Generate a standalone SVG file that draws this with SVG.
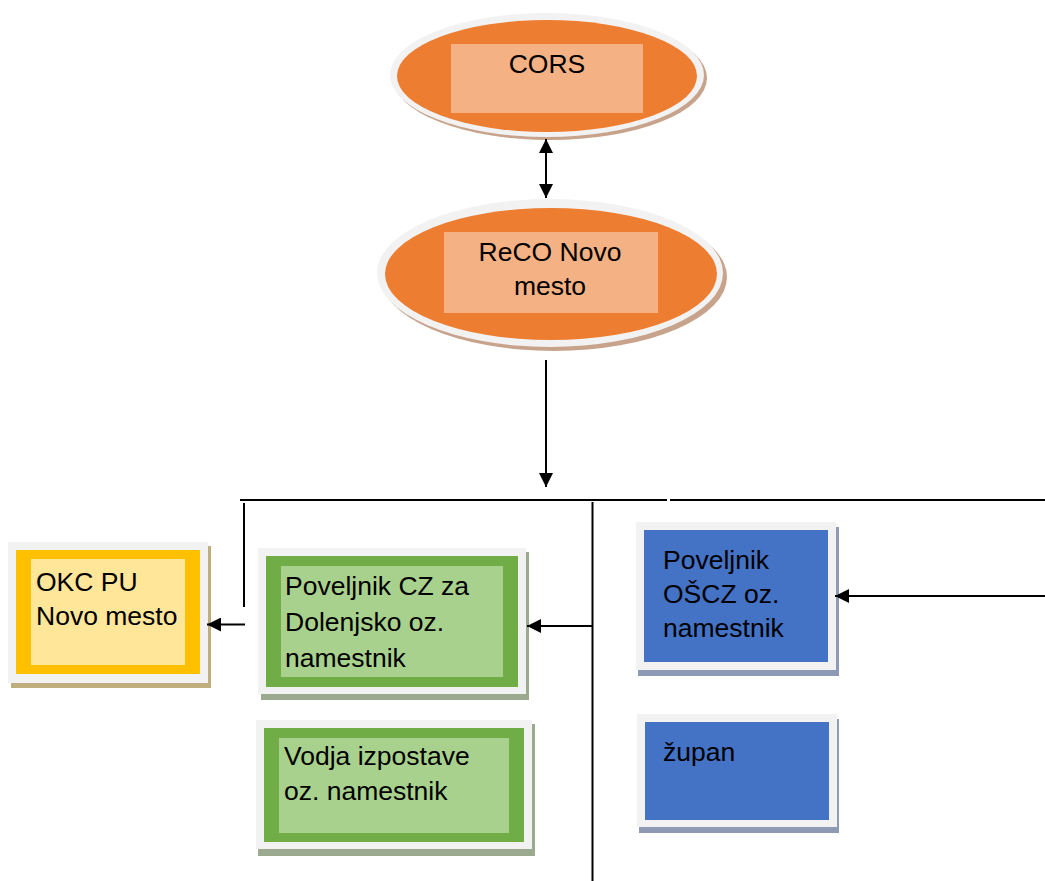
<svg xmlns="http://www.w3.org/2000/svg" width="1045" height="881" viewBox="0 0 1045 881">
<defs>
<marker id="arr" markerWidth="14" markerHeight="14" refX="14" refY="7" orient="auto-start-reverse" markerUnits="userSpaceOnUse">
<path d="M0,0 L14,7 L0,14 z" fill="#000"/>
</marker>
<style>
text{font-family:"Liberation Sans",Arial,sans-serif;font-size:26.5px;fill:#000}
.ring{fill:#F2F2F2}
.line{stroke:#000;stroke-width:2;fill:none}
.c{text-anchor:middle}
</style>
</defs>
<rect width="1045" height="881" fill="#fff"/>

<g id="cors">
<ellipse cx="550" cy="78" rx="157" ry="62" fill="#C8A38C"/>
<ellipse cx="547" cy="75" rx="157" ry="62" class="ring"/>
<ellipse cx="547" cy="76" rx="150" ry="56" fill="#ED7D31"/>
<rect x="451" y="44" width="192" height="69" fill="#F4B183"/>
<text x="547" y="72.5" class="c">CORS</text>
</g>

<g id="reco">
<ellipse cx="554" cy="277" rx="173" ry="74" fill="#C8A38C"/>
<ellipse cx="550" cy="273" rx="173" ry="74" class="ring"/>
<ellipse cx="551" cy="274" rx="166" ry="66" fill="#ED7D31"/>
<rect x="444" y="232" width="214" height="81" fill="#F4B183"/>
<text x="550" y="261" class="c">ReCO Novo</text>
<text x="550" y="295" class="c">mesto</text>
</g>

<g id="okc">
<rect x="11" y="546" width="200" height="142" fill="#BFAF80"/>
<rect x="8" y="542" width="200" height="141" class="ring"/>
<rect x="16" y="550" width="184" height="124" fill="#FFC000"/>
<rect x="31" y="559" width="154" height="106" fill="#FFE699"/>
<text x="36" y="591">OKC PU</text>
<text x="36" y="625">Novo mesto</text>
</g>

<g id="poveljnik-cz">
<rect x="261" y="552" width="268" height="148" fill="#9BAA8F"/>
<rect x="258" y="548" width="268" height="146" class="ring"/>
<rect x="266" y="556" width="252" height="131" fill="#70AD47"/>
<rect x="281" y="566" width="222" height="111" fill="#A9D18E"/>
<text x="285" y="595">Poveljnik CZ za</text>
<text x="285" y="631">Dolenjsko oz.</text>
<text x="285" y="667">namestnik</text>
</g>

<g id="vodja">
<rect x="258" y="724" width="277" height="132" fill="#9BAA8F"/>
<rect x="256" y="720" width="276" height="129" class="ring"/>
<rect x="264" y="728" width="260" height="114" fill="#70AD47"/>
<rect x="279" y="738" width="230" height="95" fill="#A9D18E"/>
<text x="284" y="765">Vodja izpostave</text>
<text x="284" y="800">oz. namestnik</text>
</g>

<g id="poveljnik-osc">
<rect x="638" y="527" width="201" height="149" fill="#8E9AB3"/>
<rect x="636" y="522" width="200" height="148" class="ring"/>
<rect x="644" y="530" width="184" height="132" fill="#4472C4"/>
<text x="663" y="569">Poveljnik</text>
<text x="663" y="603">OŠCZ oz.</text>
<text x="663" y="637">namestnik</text>
</g>

<g id="zupan">
<rect x="639" y="719" width="200" height="114" fill="#8E9AB3"/>
<rect x="637" y="714" width="200" height="113" class="ring"/>
<rect x="645" y="722" width="184" height="98" fill="#4472C4"/>
<text x="663" y="761">župan</text>
</g>

<g id="connectors">
<line x1="546" y1="139" x2="546" y2="198" class="line" marker-start="url(#arr)" marker-end="url(#arr)"/>
<line x1="546" y1="360" x2="546" y2="487" class="line" marker-end="url(#arr)"/>
<line x1="240" y1="500" x2="667" y2="500" class="line"/>
<line x1="670" y1="500" x2="1045" y2="500" class="line"/>
<line x1="244" y1="503" x2="244" y2="607" class="line"/>
<line x1="245" y1="624.5" x2="207" y2="624.5" class="line" marker-end="url(#arr)"/>
<line x1="592.5" y1="502" x2="592.5" y2="881" class="line"/>
<line x1="593" y1="626" x2="527" y2="626" class="line" marker-end="url(#arr)"/>
<line x1="1045" y1="596" x2="835" y2="596" class="line" marker-end="url(#arr)"/>
</g>
</svg>
